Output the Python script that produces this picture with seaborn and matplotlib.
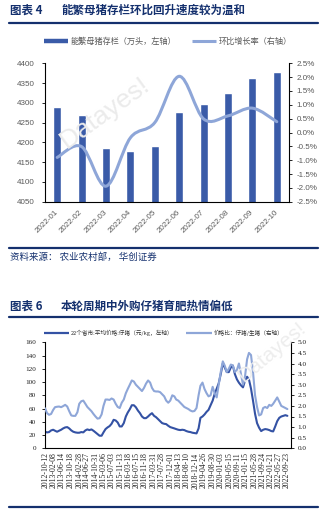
import numpy as np
import pandas as pd
import matplotlib
matplotlib.use("Agg")
import matplotlib.pyplot as plt
import matplotlib.dates as mdates
import seaborn as sns
from matplotlib.path import Path
from matplotlib.patches import PathPatch
from matplotlib.lines import Line2D
from matplotlib.ticker import FuncFormatter, FixedLocator

# ---------------- data: chart 4 ----------------
months4 = ["2022-01", "2022-02", "2022-03", "2022-04", "2022-05",
           "2022-06", "2022-07", "2022-08", "2022-09", "2022-10"]
sow_stock = [4290, 4268, 4185, 4177, 4192, 4277, 4298, 4324, 4362, 4379]
mom_growth = [-0.90, -0.51, -1.94, -0.19, 0.36, 2.03, 0.49, 0.60, 0.88, 0.39]

# ---------------- data: chart 6 (monthly readings from 2012-10) ----------------
start6 = "2012-10-01"
piglet_price = [
    25, 24, 24.5, 27, 28, 26.5, 25, 26.5, 28, 30, 31.5, 32,          # 2012-10 .. 2013-09
    30, 27, 25, 24, 23.5, 23.5, 24.5, 24, 27, 28.5, 27.5, 28.5,      # 2013-10 .. 2014-09
    26.5, 24, 21.5, 19, 19, 24, 29, 31.5, 33.5, 37, 43, 42,          # 2014-10 .. 2015-09
    39, 33, 33, 38, 48, 54, 59, 65, 65, 62, 57, 53,                  # 2015-10 .. 2016-09
    48, 45.5, 45.5, 48, 51, 53, 49, 47, 44, 41, 38, 37,              # 2016-10 .. 2017-09
    36.5, 34, 32, 31, 30, 29, 28, 27.5, 28, 27.5, 26, 25,            # 2017-10 .. 2018-09
    24.5, 23.5, 23, 22.5, 30, 46, 48, 51, 55, 58, 65, 72,            # 2018-10 .. 2019-09
    82, 90, 98, 112, 128, 122, 115, 115, 122, 125, 112, 104,         # 2019-10 .. 2020-09
    99, 95, 92, 102, 108, 104, 90, 72, 52, 38, 31, 26,               # 2020-10 .. 2021-09
    28, 29, 28.5, 27.5, 26, 25.5, 33, 41, 46, 48, 49, 50,            # 2021-10 .. 2022-09
    49,                                                              # 2022-10
]
price_ratio = [
    1.89, 1.66, 1.58, 1.62, 1.81, 1.94, 1.96, 1.97, 1.94, 1.99, 2.05, 1.97,
    1.75, 1.55, 1.53, 1.53, 1.70, 2.10, 2.22, 2.25, 2.10, 1.95, 1.85, 1.75,
    1.62, 1.50, 1.40, 1.42, 1.60, 2.00, 2.30, 2.30, 2.28, 2.35, 2.30, 2.10,
    1.95, 1.90, 2.15, 2.30, 2.60, 2.80, 3.00, 3.20, 3.15, 3.00, 2.90, 2.80,
    2.70, 2.85, 3.05, 3.20, 3.10, 2.85, 2.70, 2.68, 2.68, 2.65, 2.55, 2.45,
    2.25, 2.15, 2.25, 2.50, 2.45, 2.30, 2.25, 2.15, 2.05, 1.95, 1.90, 1.85,
    1.78, 1.74, 1.76, 1.90, 2.50, 2.95, 3.10, 2.80, 2.60, 2.45, 2.50, 2.90,
    2.60, 2.40, 3.00, 3.60, 4.10, 3.90, 3.60, 3.75, 3.95, 3.90, 3.60, 3.70,
    4.00, 3.50, 3.00, 3.40, 4.20, 4.50, 4.40, 3.60, 2.50, 1.95, 1.55, 1.60,
    1.90, 1.95, 1.90, 2.05, 2.00, 2.10, 2.25, 2.40, 2.20, 2.00, 1.95, 1.90,
    1.85,
]
xlabels6 = ["2012-10-12", "2013-02-08", "2013-06-14", "2013-10-18", "2014-02-28",
            "2014-06-27", "2014-10-31", "2015-03-06", "2015-07-03", "2015-11-13",
            "2016-03-18", "2016-07-15", "2016-11-18", "2017-03-31", "2017-07-28",
            "2017-12-01", "2018-04-13", "2018-08-10", "2018-12-14", "2019-04-26",
            "2019-08-30", "2020-01-03", "2020-05-15", "2020-09-11", "2021-01-15",
            "2021-05-28", "2021-09-24", "2022-01-21", "2022-05-27", "2022-09-23"]

# ---------------- style ----------------
sns.set_theme(style="white")
plt.rcParams["font.family"] = ["Noto Sans CJK SC", "DejaVu Sans"]
plt.rcParams["axes.unicode_minus"] = False

NAVY = "#14306e"
BAR = "#3a5ba8"
LIGHT = "#8ea6d8"
DARK6 = "#3452a4"
GRAY = "#595959"

W, H = 326, 514
fig = plt.figure(figsize=(W / 100, H / 100), dpi=100)


def fx(px):
    return px / W


def fy(py):
    return 1 - py / H


# ---------- titles / rules ----------
def title(y, num, text):
    fig.text(fx(10), fy(y), f"图表 {num}", fontsize=8.3, fontweight="bold",
             color=NAVY, va="center", ha="left")
    fig.text(fx(61), fy(y), text, fontsize=8.3, fontweight="bold",
             color=NAVY, va="center", ha="left")


def rule(y, lw=1.6):
    fig.add_artist(Line2D([fx(9), fx(318)], [fy(y), fy(y)], transform=fig.transFigure,
                          color=NAVY, lw=lw))


title(10, 4, "能繁母猪存栏环比回升速度较为温和")
rule(23)
rule(248)
fig.text(fx(10), fy(257), "资料来源： 农业农村部， 华创证券", fontsize=6.8,
         color=NAVY, va="center", ha="left")

title(306.5, 6, "本轮周期中外购仔猪育肥热情偏低")
rule(317)
rule(507)

# ---------- chart 4 ----------
ax1 = fig.add_axes([fx(45), fy(201.7), fx(289) - fx(45), fy(63.3) - fy(201.7)])
df4 = pd.DataFrame({"month": months4, "stock": sow_stock, "growth": mom_growth})
sns.barplot(data=df4, x="month", y="stock", color=BAR, saturation=1, width=0.32, ax=ax1)
ax1.set_ylim(4050, 4400)
ax1.set_xlim(-0.5, len(months4) - 0.5)
ax1.set_yticks(np.arange(4050, 4401, 50))
ax1.set_xlabel("")
ax1.set_ylabel("")
ax1.set_xticks(range(len(months4)))
ax1.set_xticklabels(months4, rotation=45, ha="right", va="center", rotation_mode="anchor",
                    fontsize=5.8, color=GRAY, family="Liberation Sans")
ax1.xaxis.set_minor_locator(FixedLocator(np.arange(-0.5, len(months4), 1.0)))
ax1.tick_params(axis="x", which="major", length=0, pad=7)
ax1.tick_params(axis="x", which="minor", length=2.5, width=0.6, color="black", direction="out")
ax1.tick_params(axis="y", length=2.5, width=0.6, color="black", direction="out", pad=5,
                labelsize=5.8, labelcolor=GRAY)
for lab in ax1.get_yticklabels():
    lab.set_family("Liberation Sans")
for s in ["top", "right"]:
    ax1.spines[s].set_visible(False)
for s in ["left", "bottom"]:
    ax1.spines[s].set_color("black")
    ax1.spines[s].set_linewidth(0.8)

ax2 = ax1.twinx()
ax2.set_ylim(-2.5, 2.5)
ax2.set_yticks(np.arange(-2.5, 2.51, 0.5))
ax2.yaxis.set_major_formatter(FuncFormatter(lambda v, p: f"{v:.1f}%"))
ax2.tick_params(axis="y", length=2.5, width=0.6, color="black", direction="out", pad=3,
                labelsize=5.8, labelcolor=GRAY)
for lab in ax2.get_yticklabels():
    lab.set_family("Liberation Sans")
for s in ["top", "left", "bottom"]:
    ax2.spines[s].set_visible(False)
ax2.spines["right"].set_color("black")
ax2.spines["right"].set_linewidth(0.8)
ax2.grid(False)
ax1.grid(False)

# smoothed line (Bezier through the data points, like Excel's smoothed line)
P = np.column_stack([np.arange(len(mom_growth)), mom_growth]).astype(float)
verts = [tuple(P[0])]
codes = [Path.MOVETO]
n = len(P)
for i in range(n - 1):
    p0 = P[i - 1] if i > 0 else P[i]
    p3 = P[i + 2] if i + 2 < n else P[i + 1]
    c1 = P[i] + (P[i + 1] - p0) / 6
    c2 = P[i + 1] - (p3 - P[i]) / 6
    verts += [tuple(c1), tuple(c2), tuple(P[i + 1])]
    codes += [Path.CURVE4] * 3
ax2.add_patch(PathPatch(Path(verts, codes), facecolor="none", edgecolor=LIGHT,
                        lw=2.2, capstyle="round", transform=ax2.transData))
ax2.set_ylim(-2.5, 2.5)

fig.text(fx(105), fy(113), "Datayes!", fontsize=19, color="#ebebeb", rotation=36,
         ha="center", va="center", family="Liberation Sans", zorder=0.5)

h1 = Line2D([], [], color=BAR, lw=3.2, solid_capstyle="butt")
h2 = Line2D([], [], color=LIGHT, lw=2.2, solid_capstyle="butt")
fig.legend([h1, h2], ["能繁母猪存栏（万头，左轴）", "环比增长率（右轴）"],
           loc="center", bbox_to_anchor=(fx(168), fy(41)), ncol=2, frameon=False,
           fontsize=5.9, handlelength=2.9, handletextpad=0.3, columnspacing=2.0,
           labelcolor=GRAY)

# ---------- chart 6 ----------
ax3 = fig.add_axes([fx(45), fy(448.3), fx(290.7) - fx(45), fy(342.3) - fy(448.3)])
dates6 = pd.date_range(start6, periods=len(piglet_price), freq="MS")
df6 = pd.DataFrame({"date": dates6, "piglet": piglet_price, "ratio": price_ratio})
sns.lineplot(data=df6, x="date", y="piglet", color=DARK6, lw=1.5, ax=ax3)
ax3.set_ylim(0, 160)
ax3.set_yticks(np.arange(0, 161, 20))
ax3.set_xlim(pd.Timestamp("2012-10-01"), pd.Timestamp("2022-11-20"))
ax3.set_xlabel("")
ax3.set_ylabel("")
lab_dates = pd.to_datetime(xlabels6)
ax3.set_xticks(lab_dates)
ax3.set_xticklabels(xlabels6, rotation=90, ha="center", va="top", fontsize=5.6,
                    family="Liberation Serif", color="#222222")
ax3.xaxis.set_minor_locator(mdates.MonthLocator(bymonth=(1, 7)))
ax3.tick_params(axis="x", which="major", length=0, pad=3)
ax3.tick_params(axis="x", which="minor", length=2, width=0.6, direction="in", color="black")
ax3.tick_params(axis="y", length=2.5, width=0.6, direction="out", color="black", pad=4,
                labelsize=5.2, labelcolor="#222222")
for lab in ax3.get_yticklabels():
    lab.set_family("Liberation Serif")
for s in ["top", "right"]:
    ax3.spines[s].set_visible(False)
for s in ["left", "bottom"]:
    ax3.spines[s].set_color("black")
    ax3.spines[s].set_linewidth(0.8)
ax3.grid(False)

ax4 = ax3.twinx()
sns.lineplot(data=df6, x="date", y="ratio", color=LIGHT, lw=1.5, ax=ax4)
ax4.set_ylim(0, 5)
ax4.set_yticks(np.arange(0, 5.01, 0.5))
ax4.yaxis.set_major_formatter(FuncFormatter(lambda v, p: f"{v:.1f}"))
ax4.set_ylabel("")
ax4.tick_params(axis="y", length=2, width=0.6, direction="out", color="black", pad=3,
                labelsize=5.2, labelcolor="#222222")
for lab in ax4.get_yticklabels():
    lab.set_family("Liberation Serif")
for s in ["top", "left", "bottom"]:
    ax4.spines[s].set_visible(False)
ax4.spines["right"].set_color("black")
ax4.spines["right"].set_linewidth(0.8)
ax4.grid(False)

fig.text(fx(272), fy(352), "Datayes!", fontsize=15, color="#ededed", rotation=40,
         ha="center", va="center", family="Liberation Sans", zorder=0.5)

h3 = Line2D([], [], color=DARK6, lw=1.6, solid_capstyle="butt")
h4 = Line2D([], [], color=LIGHT, lw=1.6, solid_capstyle="butt")
fig.legend([h3, h4], ["22个省市:平均价格:仔猪（元/kg，左轴）", "价格比：仔猪/生猪（右轴）"],
           loc="center", bbox_to_anchor=(fx(163.5), fy(333)), ncol=2, frameon=False,
           fontsize=4.1, handlelength=4.5, handletextpad=0.3, columnspacing=2.2,
           labelcolor="#333333")

fig.savefig("out.png", dpi=100)
